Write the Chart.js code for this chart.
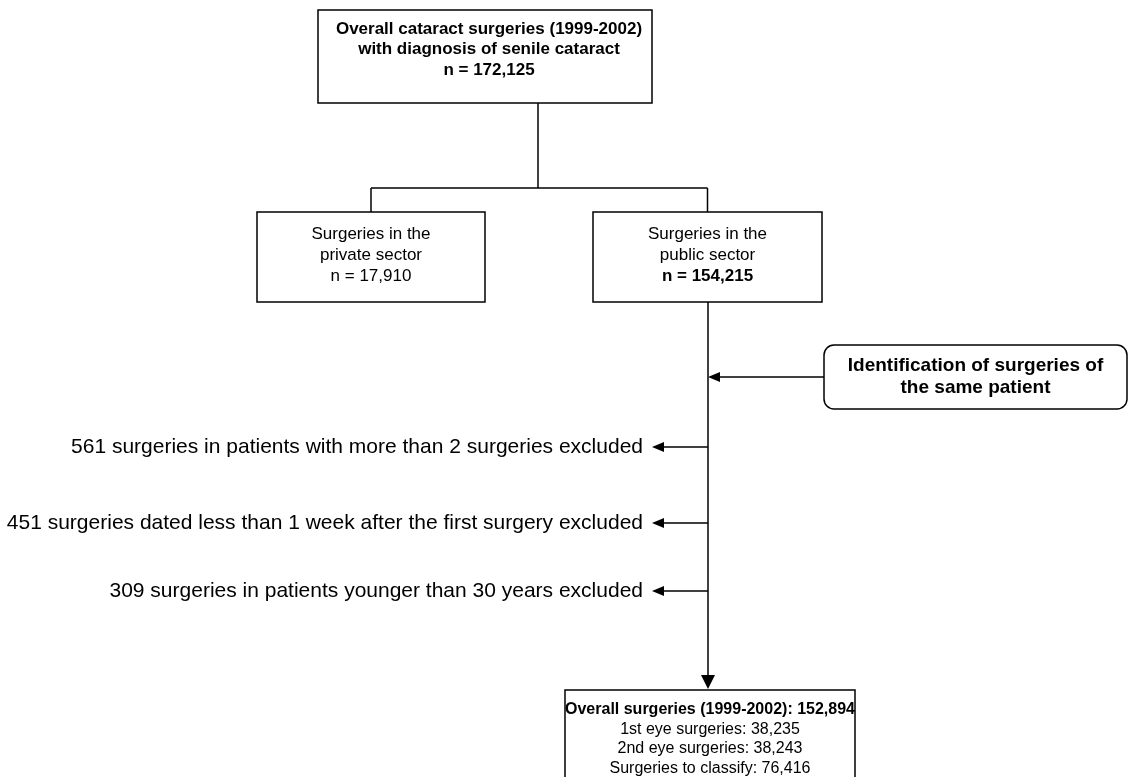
<!DOCTYPE html>
<html>
<head>
<meta charset="utf-8">
<title>Cataract surgeries flowchart</title>
<script src="https://cdn.jsdelivr.net/npm/chart.js@4.4.1/dist/chart.umd.min.js"></script>
<style>
  html, body { margin: 0; padding: 0; background: #ffffff; }
  #flow { display: block; }
</style>
</head>
<body>
<canvas id="flow" width="1130" height="777"></canvas>
<script>
// flowchart content
const topBoxLines = ['Overall cataract surgeries (1999-2002)', 'with diagnosis of senile cataract'];
const totalSurgeries = 172125;
const sectorLines = [['Surgeries in the', 'private sector'], ['Surgeries in the', 'public sector']];
const sectorCounts = [17910, 154215];
const stepLines = ['Identification of surgeries of', 'the same patient'];
const exclusionCounts = [561, 451, 309];
const exclusionReasons = [
    'surgeries in patients with more than 2 surgeries excluded',
    'surgeries dated less than 1 week after the first surgery excluded',
    'surgeries in patients younger than 30 years excluded'
];
const finalTitle = 'Overall surgeries (1999-2002)';
const finalTotal = 152894;
const finalCategories = ['1st eye surgeries', '2nd eye surgeries', 'Surgeries to classify'];
const finalCounts = [38235, 38243, 76416];

// where things sit on the page (value units of the hidden axes)
const layout = {
    top: { x0: 318, x1: 652, y0: 10, y1: 103, size: 17, gap: 20.5 },
    stemX: 538,
    branchY: 188,
    sectors: [{ x0: 257, x1: 485, y0: 212, y1: 302 }, { x0: 593, x1: 822, y0: 212, y1: 302 }],
    sectorFont: { size: 17, gap: 21 },
    spineX: 708,
    step: { x0: 824, x1: 1127, y0: 345, y1: 409, size: 19, gap: 22 },
    exclusionY: [447, 523, 591],
    exclusionSize: 21,
    arrowTipX: 652,
    final: { x0: 565, x1: 855, y0: 690, y1: 800, size: 16, gap: 19.5 }
};

const fmt = n => n.toLocaleString('en-US');

function font(bold, size) {
    return (bold ? 'bold ' : '') + size + 'px "Liberation Sans", Arial, sans-serif';
}

const flowPlugin = {
    id: 'flow',
    afterDraw(chart) {
        const ctx = chart.ctx;
        const xs = chart.scales.x;
        const ys = chart.scales.y;
        const px = v => xs.getPixelForValue(v);
        const py = v => ys.getPixelForValue(v);

        ctx.save();
        ctx.strokeStyle = '#000';
        ctx.fillStyle = '#000';
        ctx.lineWidth = 1.5;

        function line(x0, y0, x1, y1) {
            ctx.beginPath();
            ctx.moveTo(px(x0), py(y0));
            ctx.lineTo(px(x1), py(y1));
            ctx.stroke();
        }
        function rect(b) {
            ctx.strokeRect(px(b.x0), py(b.y0), px(b.x1) - px(b.x0), py(b.y1) - py(b.y0));
        }
        function head(x, y, dir) {
            ctx.beginPath();
            if (dir === 'left') {
                ctx.moveTo(px(x), py(y));
                ctx.lineTo(px(x + 12), py(y - 5));
                ctx.lineTo(px(x + 12), py(y + 5));
            } else {
                ctx.moveTo(px(x), py(y));
                ctx.lineTo(px(x - 7), py(y - 14));
                ctx.lineTo(px(x + 7), py(y - 14));
            }
            ctx.closePath();
            ctx.fill();
        }
        // lines: text rows; first row centred at y, then every gap
        function text(lines, cx, y, bolds, size, gap, align) {
            ctx.textAlign = align || 'center';
            ctx.textBaseline = 'middle';
            lines.forEach((t, i) => {
                ctx.font = font(bolds[i], size);
                ctx.fillText(t, px(cx), py(y + i * gap));
            });
        }

        // top box
        const t = layout.top;
        rect(t);
        text([...topBoxLines, 'n = ' + fmt(totalSurgeries)], (t.x0 + t.x1) / 2 + 4, t.y0 + 19, [true, true, true], t.size, t.gap);

        // branch to sectors
        line(layout.stemX, t.y1, layout.stemX, layout.branchY);
        const centres = layout.sectors.map(b => (b.x0 + b.x1) / 2);
        line(centres[0], layout.branchY, centres[1], layout.branchY);
        const sf = layout.sectorFont;
        layout.sectors.forEach((b, i) => {
            line(centres[i], layout.branchY, centres[i], b.y0);
            rect(b);
            text([...sectorLines[i], 'n = ' + fmt(sectorCounts[i])], centres[i], b.y0 + 22, [false, false, i === 1], sf.size, sf.gap);
        });

        // public sector spine down to final box
        const pub = layout.sectors[1];
        const f = layout.final;
        line(layout.spineX, pub.y1, layout.spineX, f.y0 - 14);
        head(layout.spineX, f.y0 - 1, 'down');

        // identification step (rounded box)
        const s = layout.step;
        ctx.beginPath();
        ctx.roundRect(px(s.x0), py(s.y0), px(s.x1) - px(s.x0), py(s.y1) - py(s.y0), 10);
        ctx.stroke();
        text(stepLines, (s.x0 + s.x1) / 2, s.y0 + 21, [true, true], s.size, s.gap);
        const sy = (s.y0 + s.y1) / 2;
        line(s.x0, sy, layout.spineX + 12, sy);
        head(layout.spineX, sy, 'left');

        // exclusions
        exclusionCounts.forEach((n, i) => {
            const y = layout.exclusionY[i];
            line(layout.spineX, y, layout.arrowTipX + 12, y);
            head(layout.arrowTipX, y, 'left');
            text([n + ' ' + exclusionReasons[i]], layout.arrowTipX - 9, y, [false], layout.exclusionSize, 0, 'right');
        });

        // final box
        rect(f);
        const finalLines = [finalTitle + ': ' + fmt(finalTotal)].concat(finalCategories.map((c, i) => c + ': ' + fmt(finalCounts[i])));
        text(finalLines, (f.x0 + f.x1) / 2, f.y0 + 20, [true, false, false, false], f.size, f.gap);

        ctx.restore();
    }
};

new Chart(document.getElementById('flow').getContext('2d'), {
    type: 'scatter',
    data: { datasets: [{ data: [], pointRadius: 0 }] },
    options: {
        responsive: false,
        animation: false,
        layout: { padding: 0 },
        plugins: { legend: { display: false }, tooltip: { enabled: false } },
        scales: {
            x: { type: 'linear', min: 0, max: 1130, display: false },
            y: { type: 'linear', min: 0, max: 777, reverse: true, display: false }
        }
    },
    plugins: [flowPlugin]
});
</script>
</body>
</html>
